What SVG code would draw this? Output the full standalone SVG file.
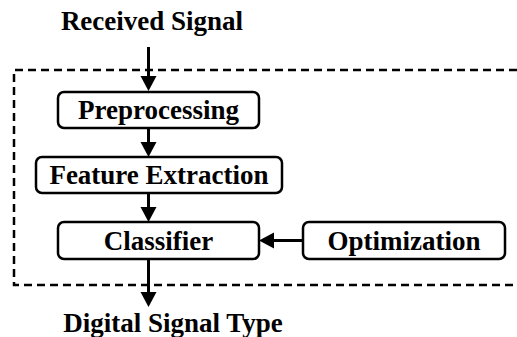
<svg xmlns="http://www.w3.org/2000/svg" width="517" height="337" viewBox="0 0 517 337">
  <style>
    .box { fill: #ffffff; stroke: #000000; stroke-width: 2.5; }
    .lbl { font-family: 'Liberation Serif', 'Times New Roman', Times, serif; font-weight: 700; font-size: 27px; fill: #000000; text-anchor: middle; }
    .edge { stroke: #000000; stroke-width: 3; fill: none; marker-end: url(#arrow); }
    .frame { stroke: #000000; stroke-width: 2.5; fill: none; stroke-dasharray: 8 5; }
  </style>
  <defs>
    <marker id="arrow" markerUnits="userSpaceOnUse" markerWidth="17" markerHeight="17" refX="8" refY="8" orient="auto">
      <path d="M0,0 L15,8 L0,16 Z" fill="#000000"/>
    </marker>
  </defs>
  <rect width="517" height="337" fill="#ffffff"/>

  <!-- dashed system boundary, open on the right -->
  <path class="frame" d="M517,70 H14 V285 H517"/>

  <!-- input / output labels -->
  <text class="lbl" x="152" y="30">Received Signal</text>
  <text class="lbl" x="173" y="332">Digital Signal Type</text>

  <g id="connectors">
    <line class="edge" x1="148.5" y1="47" x2="148.5" y2="84"/>
    <line class="edge" x1="148.5" y1="128" x2="148.5" y2="150"/>
    <line class="edge" x1="148.5" y1="194" x2="148.5" y2="215"/>
    <line class="edge" x1="148.5" y1="259" x2="148.5" y2="300"/>
    <line class="edge" x1="303" y1="240.5" x2="266" y2="240.5"/>
  </g>

  <g id="preprocessing">
    <rect class="box" x="58" y="92" width="201" height="36" rx="6"/>
    <text class="lbl" x="158.5" y="119">Preprocessing</text>
  </g>
  <g id="feature-extraction">
    <rect class="box" x="36" y="157" width="246" height="36" rx="6"/>
    <text class="lbl" x="159" y="184">Feature Extraction</text>
  </g>
  <g id="classifier">
    <rect class="box" x="58" y="222" width="201" height="37" rx="6"/>
    <text class="lbl" x="158.5" y="249.5">Classifier</text>
  </g>
  <g id="optimization">
    <rect class="box" x="303" y="222" width="202" height="37" rx="6"/>
    <text class="lbl" x="404" y="249.5">Optimization</text>
  </g>
</svg>
